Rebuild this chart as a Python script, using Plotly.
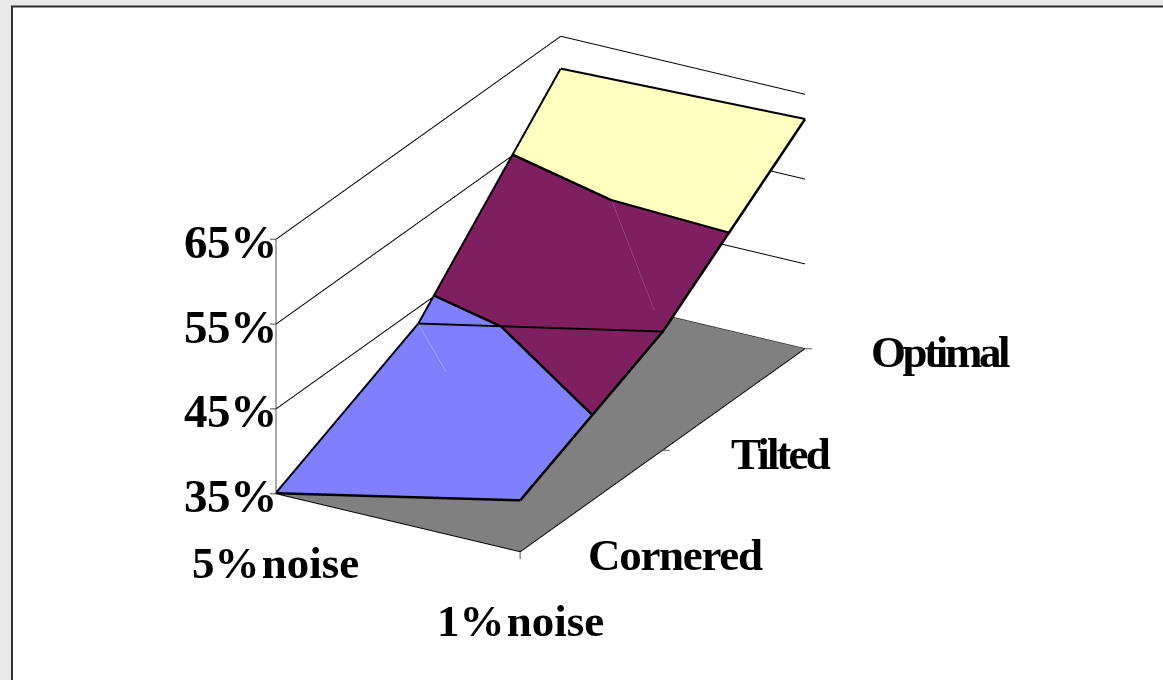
import math
import plotly.graph_objects as go

# Surface heights in percent: rows follow placement, columns follow noise level
noise_levels = ["5% noise", "1% noise"]
placements = ["Cornered", "Tilted", "Optimal"]
noise_5 = [35.0, 43.0, 61.1]
noise_1 = [41.0, 48.9, 62.0]
z_ticks = [35, 45, 55, 65]
z_labels = ["35%", "45%", "55%", "65%"]
band_colors = ["#8080FF", "#7F1F5F", "#FFFFC0"]
floor_color = "#808080"

Z = [noise_5, noise_1]
Z_MIN, Z_MAX = z_ticks[0], z_ticks[-1]

# Parallel view of the box
AZ = math.radians(30)
EL = math.radians(24.3)
DIST = 2.0
# Placement of the 3D scene on the 1163x680 page, in pixels from the top left
SCENE_RIGHT = 1081.0
SCENE_TOP, SCENE_BOTTOM = 11.5, 575.5


def vert(i, j):
    return (float(i), float(j), Z[i][j])


# Each grid cell is split along one diagonal, so the surface is planar per triangle
triangles = [
    (vert(0, 0), vert(1, 0), vert(0, 1)),
    (vert(1, 0), vert(1, 1), vert(0, 1)),
    (vert(0, 1), vert(1, 1), vert(0, 2)),
    (vert(1, 1), vert(1, 2), vert(0, 2)),
]


def clip(poly, level, keep_above):
    """Clip a polygon against a horizontal plane."""
    out = []
    for k, a in enumerate(poly):
        b = poly[(k + 1) % len(poly)]
        ina = (a[2] >= level) == keep_above
        inb = (b[2] >= level) == keep_above
        if ina:
            out.append(a)
        if ina != inb:
            t = (level - a[2]) / (b[2] - a[2])
            out.append(tuple(a[m] + t * (b[m] - a[m]) for m in range(3)))
    return out


fig = go.Figure()
LIGHT = dict(ambient=1, diffuse=0, specular=0, roughness=1, fresnel=0)


def add_polys(polys, color):
    xs, ys, zs, ii, jj, kk = [], [], [], [], [], []
    for p in polys:
        base = len(xs)
        for v in p:
            xs.append(v[0]); ys.append(v[1]); zs.append(v[2])
        for n in range(1, len(p) - 1):
            ii.append(base); jj.append(base + n); kk.append(base + n + 1)
    fig.add_trace(go.Mesh3d(x=xs, y=ys, z=zs, i=ii, j=jj, k=kk, color=color, opacity=1,
                            flatshading=True, lighting=LIGHT, hoverinfo="skip", showscale=False))


def add_lines(segments, color, width):
    xs, ys, zs = [], [], []
    for a, b in segments:
        xs += [a[0], b[0], None]; ys += [a[1], b[1], None]; zs += [a[2], b[2], None]
    fig.add_trace(go.Scatter3d(x=xs, y=ys, z=zs, mode="lines", line=dict(color=color, width=width),
                               hoverinfo="skip", showlegend=False))


# Floor of the box
add_polys([[(0, 0, Z_MIN), (1, 0, Z_MIN), (1, 2, Z_MIN), (0, 2, Z_MIN)]], floor_color)

# One flat-coloured mesh per value band
for b, color in enumerate(band_colors):
    lo, hi = z_ticks[b], z_ticks[b + 1]
    polys = []
    for tri in triangles:
        p = clip(clip(list(tri), lo, True), hi, False)
        if len(p) >= 3:
            polys.append(p)
    add_polys(polys, color)

# Contours where the surface crosses a tick level
LIFT = 0.06
contours = []
for level in z_ticks[1:-1]:
    for tri in triangles:
        pts = []
        for k in range(3):
            a, c = tri[k], tri[(k + 1) % 3]
            if (a[2] - level) * (c[2] - level) < 0:
                t = (level - a[2]) / (c[2] - a[2])
                pts.append((a[0] + t * (c[0] - a[0]), a[1] + t * (c[1] - a[1]), level + LIFT))
        if len(pts) == 2:
            contours.append(tuple(pts))


def up(v):
    return (v[0], v[1], v[2] + LIFT)


# Surface outline and the grid line across the middle placement
outline = []
for j in range(2):
    outline.append((up(vert(0, j)), up(vert(0, j + 1))))
    outline.append((up(vert(1, j)), up(vert(1, j + 1))))
for j in range(3):
    outline.append((up(vert(0, j)), up(vert(1, j))))
add_lines(outline + contours, "#000000", 5)


# Faint remains of the cell diagonals
def along(a, b, t0, t1):
    pa = tuple(a[m] + t0 * (b[m] - a[m]) for m in range(3))
    pb = tuple(a[m] + t1 * (b[m] - a[m]) for m in range(3))
    return up(pa), up(pb)


add_lines([along(vert(0, 1), vert(1, 0), 0.0, 0.27)], "#C0C0FF", 1)
add_lines([along(vert(1, 1), vert(0, 2), 0.08, 0.49)], "#A060A0", 1)

# Walls: gridlines along the left side and the back, plus the box edges on the floor
grid = []
for t in z_ticks:
    grid.append(((0, 0, t), (0, 2, t)))
    grid.append(((0, 2, t), (1, 2, t)))
grid.append(((1, 0, Z_MIN), (1, 2, Z_MIN)))
grid.append(((0, 0, Z_MIN), (1, 0, Z_MIN)))
add_lines(grid, "#000000", 2)

# Value axis with its tick marks, and the tick marks along the floor edges
TICK_LEFT = (-0.0184, -0.0105)
TICK_RIGHT = (0.0215, 0.0123)
axis = [((0, 0, Z_MIN), (0, 0, Z_MAX))]
for t in z_ticks:
    axis.append(((0, 0, t), (TICK_LEFT[0], TICK_LEFT[1], t)))
axis.append(((1, 0, Z_MIN), (1, 0, Z_MIN - 0.85)))
for j in (1, 2):
    axis.append(((1, j, Z_MIN), (1 + TICK_RIGHT[0], j + TICK_RIGHT[1], Z_MIN)))
add_lines(axis, "#505050", 2)

annotations = []


def label(x, y, z, text, xanchor, spacing=0.0, words=0.0, size=45, xshift=0, yshift=0):
    annotations.append(dict(
        x=x, y=y, z=z, showarrow=False,
        font=dict(family="Liberation Serif", size=size, color="#000000"),
        xanchor=xanchor, yanchor="middle", xshift=xshift, yshift=yshift,
        text=f'<span style="letter-spacing:{spacing}px;word-spacing:{words}px"><b>{text}</b></span>'))


# Labels sit tight, with the word gap in the noise labels almost closed
for t, s in zip(z_ticks, z_labels):
    label(0, 0, t, s, "right", size=47, spacing=-0.4, xshift=3, yshift=-3)
label(0, 0, Z_MIN, noise_levels[0], "center", words=-9, yshift=-70)
label(1, 0, Z_MIN, noise_levels[1], "center", words=-9, yshift=-70)
label(1, 0, Z_MIN, placements[0], "left", spacing=-1.3, xshift=66, yshift=-4)
label(1, 1, Z_MIN, placements[1], "left", spacing=-2.9, xshift=66, yshift=-4)
label(1, 2, Z_MIN, placements[2], "left", spacing=-3.4, xshift=64, yshift=-4)

sa, ca, se, ce = math.sin(AZ), math.cos(AZ), math.sin(EL), math.cos(EL)
eye = (DIST * ce * sa, -DIST * ce * ca, DIST * se)

hidden = dict(visible=False, showgrid=False, zeroline=False, showspikes=False)
PAD = 1.1
fig.update_layout(
    width=1163, height=680, margin=dict(l=0, r=0, t=0, b=0), showlegend=False,
    paper_bgcolor="#E9E9E9", plot_bgcolor="rgba(0,0,0,0)",
    shapes=[dict(type="rect", xref="paper", yref="paper", layer="below",
                 x0=12 / 1163, x1=1.01, y0=-0.01, y1=1 - 6.5 / 680,
                 fillcolor="#FFFFFF", line=dict(color="#303030", width=2))],
    scene=dict(
        domain=dict(x=[0, SCENE_RIGHT / 1163], y=[1 - SCENE_BOTTOM / 680, 1 - SCENE_TOP / 680]),
        bgcolor="rgba(0,0,0,0)",
        xaxis=dict(range=[-0.05, 1.05], **hidden),
        yaxis=dict(range=[-0.1, 2.1], **hidden),
        zaxis=dict(range=[33.5, 66.5], **hidden),
        aspectmode="manual", aspectratio=dict(x=1.0 * PAD, y=2.02 * PAD, z=0.99 * PAD),
        camera=dict(
            projection=dict(type="orthographic"),
            up=dict(x=0, y=0, z=1),
            center=dict(x=0, y=0, z=0),
            eye=dict(x=eye[0], y=eye[1], z=eye[2]),
        ),
        annotations=annotations,
    ),
)

fig.write_html("out.html", config=dict(displayModeBar=False))
